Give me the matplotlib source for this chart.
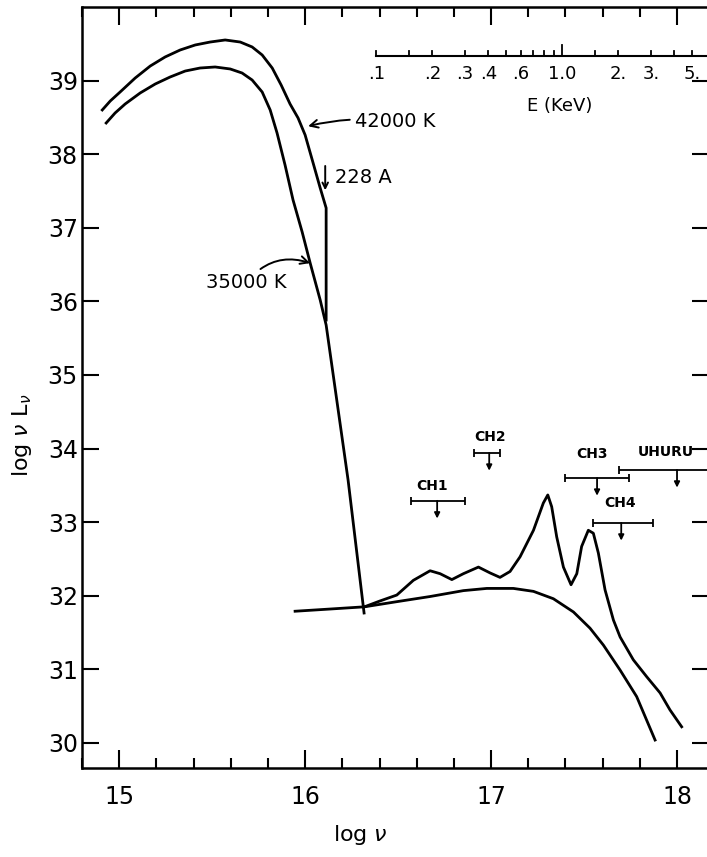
import matplotlib
matplotlib.use("Agg")
import matplotlib.pyplot as plt
import numpy as np

# 42000 K blackbody: log nu, log nu L_nu
hot_logv = [14.909, 14.952, 15.005, 15.086, 15.167, 15.247, 15.328, 15.409, 15.489,
            15.570, 15.651, 15.715, 15.769, 15.823, 15.871, 15.919, 15.962, 16.000,
            16.043, 16.081, 16.113, 16.113]
hot_logL = [38.601, 38.723, 38.845, 39.035, 39.198, 39.321, 39.416, 39.484, 39.524,
            39.552, 39.524, 39.457, 39.348, 39.171, 38.940, 38.682, 38.492, 38.261,
            37.880, 37.541, 37.269, 35.747]

# 35000 K blackbody
cool_logv = [14.930, 14.978, 15.032, 15.113, 15.194, 15.274, 15.355, 15.435, 15.516,
             15.597, 15.661, 15.715, 15.769, 15.812, 15.849, 15.892, 15.935, 15.984,
             16.027, 16.081, 16.113, 16.231, 16.317]
cool_logL = [38.424, 38.560, 38.682, 38.832, 38.954, 39.049, 39.130, 39.171, 39.185,
             39.158, 39.103, 39.008, 38.845, 38.601, 38.288, 37.853, 37.378, 36.943,
             36.522, 36.019, 35.679, 33.573, 31.766]

# X-ray continuum
cont_logv = [15.946, 16.134, 16.319, 16.493, 16.672, 16.851, 16.977, 17.120, 17.228,
             17.335, 17.443, 17.532, 17.604, 17.694, 17.783, 17.882]
cont_logL = [31.79, 31.82, 31.85, 31.92, 31.99, 32.07, 32.10, 32.10, 32.06,
             31.96, 31.78, 31.56, 31.33, 30.99, 30.63, 30.04]

# X-ray continuum + lines
line_logv = [16.319, 16.403, 16.493, 16.582, 16.672, 16.726, 16.789, 16.851, 16.932,
             16.995, 17.048, 17.102, 17.156, 17.228, 17.281, 17.305, 17.326, 17.353,
             17.389, 17.430, 17.461, 17.487, 17.523, 17.550, 17.577, 17.613, 17.658,
             17.694, 17.765, 17.837, 17.909, 17.962, 18.025]
line_logL = [31.85, 31.93, 32.01, 32.21, 32.34, 32.30, 32.22, 32.30, 32.39,
             32.31, 32.25, 32.33, 32.53, 32.89, 33.26, 33.37, 33.21, 32.80,
             32.39, 32.15, 32.30, 32.67, 32.89, 32.85, 32.58, 32.08, 31.67,
             31.44, 31.13, 30.90, 30.68, 30.45, 30.22]

# instrument upper limits
inst_names = ["CH1", "CH2", "CH3", "UHURU", "CH4"]
band_lo = [16.57, 16.91, 17.40, 17.69, 17.55]
band_hi = [16.86, 17.05, 17.74, 18.25, 17.87]
band_mid = [16.71, 16.99, 17.57, 18.00, 17.70]
limit = [33.29, 33.94, 33.60, 33.71, 32.99]

# energy scale (keV)
E_ticks = [0.1, 0.15, 0.2, 0.3, 0.4, 0.5, 0.6, 0.7, 0.8, 0.9, 1.0, 1.5, 2, 3, 4, 5]
E_labels = {0.1: ".1", 0.2: ".2", 0.3: ".3", 0.4: ".4", 0.6: ".6",
            1.0: "1.0", 2: "2.", 3: "3.", 5: "5."}
logv_1keV = 17.383

fig = plt.figure(figsize=(7.07, 8.57), dpi=100)
ax = fig.add_axes([82 / 707, 1 - 768 / 857, 627 / 707, 761 / 857])
ax.set_xlim(14.801, 18.172)
ax.set_ylim(29.66, 40.0)

lw = 2.0
ax.plot(hot_logv, hot_logL, color="black", lw=lw, solid_joinstyle="round")
ax.plot(cool_logv, cool_logL, color="black", lw=lw, solid_joinstyle="round")
ax.plot(cont_logv, cont_logL, color="black", lw=lw, solid_joinstyle="round")
ax.plot(line_logv, line_logL, color="black", lw=lw, solid_joinstyle="round")

# upper limits
label_off = {"CH1": (-5, 8), "CH2": (1, 9), "CH3": (-5, 17), "UHURU": (-11, 11), "CH4": (-1, 13)}
for name, lo, hi, mid, lim in zip(inst_names, band_lo, band_hi, band_mid, limit):
    ax.errorbar([mid], [lim], xerr=[[mid - lo], [hi - mid]], fmt="none",
                ecolor="black", elinewidth=1.3, capsize=3, capthick=1.3)
    ax.annotate("", xy=(mid, lim - 0.24), xytext=(mid, lim),
                arrowprops=dict(arrowstyle="-|>", color="black", lw=1.3,
                                mutation_scale=8, shrinkA=0, shrinkB=0))
    dx, dy = label_off[name]
    ax.annotate(name, xy=(mid, lim), xytext=(dx * 0.72, dy * 0.72),
                textcoords="offset points", ha="center", va="bottom",
                fontsize=10, fontweight="bold")

# temperature labels
ax.annotate("42000 K", xy=(16.016, 38.38), xytext=(16.27, 38.44),
            ha="left", va="center", fontsize=14,
            arrowprops=dict(arrowstyle="->", color="black", lw=1.4,
                            connectionstyle="arc3,rad=0.1", shrinkA=2, shrinkB=0))
ax.annotate("35000 K", xy=(16.027, 36.52), xytext=(15.90, 36.25),
            ha="right", va="center", fontsize=14,
            arrowprops=dict(arrowstyle="->", color="black", lw=1.4,
                            connectionstyle="arc3,rad=-0.35", shrinkA=2, shrinkB=0))
ax.annotate("", xy=(16.108, 37.51), xytext=(16.108, 37.84),
            arrowprops=dict(arrowstyle="->", color="black", lw=1.4, shrinkA=0, shrinkB=0))
ax.text(16.16, 37.68, "228 A", ha="left", va="center", fontsize=14)

# energy axis drawn inside the plot
e_y = 39.334
e_logv = [logv_1keV + np.log10(e) for e in E_ticks]
ax.plot([e_logv[0], 18.3], [e_y, e_y], color="black", lw=1.5, clip_on=True)
for e, xv in zip(E_ticks, e_logv):
    h = 0.15 if e == 1.0 else 0.07
    ax.plot([xv, xv], [e_y, e_y + h], color="black", lw=1.3)
    if e in E_labels:
        ax.text(xv, 39.09, E_labels[e], ha="center", va="center", fontsize=13)
ax.text(17.37, 38.66, "E (KeV)", ha="center", va="center", fontsize=13)

# ticks
ax.set_xticks([15, 16, 17, 18])
ax.set_xticklabels(["15", "16", "17", "18"])
ax.set_xticks(np.arange(14.8, 18.2, 0.2), minor=True)
ax.set_yticks(range(30, 40))
ax.tick_params(axis="both", which="both", direction="in", top=True, right=True,
               labelsize=17, width=1.5)
ax.tick_params(axis="x", which="major", length=13, pad=12)
ax.tick_params(axis="x", which="minor", length=7)
ax.tick_params(axis="y", which="major", length=12, pad=3)
for s in ax.spines.values():
    s.set_linewidth(1.8)
ax.spines["right"].set_visible(False)

fig.text(360 / 707, 1 - 835 / 857, r"log $\nu$", ha="center", va="center", fontsize=16)
fig.text(22 / 707, 1 - 435 / 857, r"log $\nu$ L$_\nu$", ha="center", va="center",
         fontsize=16, rotation=90)

fig.savefig("out.png", dpi=100)
